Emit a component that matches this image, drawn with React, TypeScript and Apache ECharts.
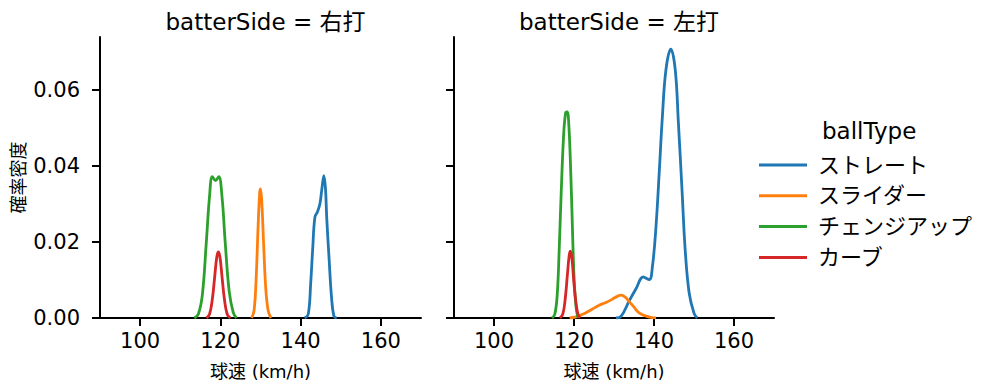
import React, { useEffect, useRef } from "react";
import * as echarts from "echarts";

const panelTitles = ["batterSide = 右打", "batterSide = 左打"];
const ballTypes = ["ストレート", "スライダー", "チェンジアップ", "カーブ"];
const colors = ["#1f77b4", "#ff7f0e", "#2ca02c", "#d62728"];
const xTicks = [100, 120, 140, 160];
const yTicks = [0, 0.02, 0.04, 0.06];

// 右打 panel
const rightStraight: [number, number][] = [
  [141.0, 0], [141.9, 0.001], [142.5, 0.009], [143.0, 0.018], [143.55, 0.0265],
  [144.2, 0.028], [144.8, 0.030], [145.3, 0.034], [145.8, 0.0375], [146.2, 0.034],
  [146.5, 0.0265], [147.1, 0.0155], [147.7, 0.0055], [148.3, 0.0005], [149.0, 0],
];
const rightSlider: [number, number][] = [
  [127.8, 0], [128.4, 0.002], [128.9, 0.01], [129.4, 0.024], [129.8, 0.033],
  [130.0, 0.034], [130.3, 0.031], [130.8, 0.019], [131.3, 0.008], [131.9, 0.002], [132.6, 0],
];
const rightChangeup: [number, number][] = [
  [113.5, 0], [114.5, 0.001], [115.5, 0.006], [116.5, 0.02], [117.3, 0.032],
  [118.0, 0.0372], [118.8, 0.0362], [119.6, 0.0372], [120.4, 0.032], [121.2, 0.02],
  [122.2, 0.007], [123.2, 0.0015], [124.0, 0],
];
const rightCurve: [number, number][] = [
  [116.5, 0], [117.3, 0.001], [118.0, 0.005], [118.6, 0.011], [119.1, 0.016],
  [119.5, 0.0174], [119.9, 0.016], [120.4, 0.011], [121.0, 0.005], [121.7, 0.001], [122.5, 0],
];

// 左打 panel
const leftStraight: [number, number][] = [
  [130.5, 0], [131.8, 0.0005], [133.8, 0.0045], [135.5, 0.0077], [137.3, 0.0108],
  [138.8, 0.0101], [139.6, 0.0135], [140.5, 0.0241], [141.3, 0.0382], [142.1, 0.0531],
  [143.0, 0.0655], [144.2, 0.0708], [145.3, 0.0655], [146.1, 0.0514], [147.0, 0.0338],
  [147.8, 0.0179], [148.8, 0.0065], [150.0, 0.0013], [150.8, 0],
];
const leftSlider: [number, number][] = [
  [118.9, 0], [120.5, 0.0003], [122.0, 0.0009], [123.0, 0.0014], [124.5, 0.0023],
  [126.4, 0.0034], [128.0, 0.0041], [129.5, 0.0049], [130.8, 0.0057], [131.8, 0.006],
  [132.8, 0.0055], [133.8, 0.0043], [134.9, 0.003], [135.9, 0.0017], [137.0, 0.0009],
  [138.0, 0.0005], [139.5, 0.0001], [140.5, 0],
];
const leftChangeup: [number, number][] = [
  [114.5, 0], [115.2, 0.001], [115.8, 0.006], [116.3, 0.018], [116.8, 0.033],
  [117.4, 0.048], [117.9, 0.054], [118.3, 0.0543], [118.7, 0.051], [119.2, 0.038],
  [119.6, 0.024], [120.0, 0.011], [120.5, 0.003], [121.0, 0],
];
const leftCurve: [number, number][] = [
  [116.5, 0], [117.2, 0.001], [117.8, 0.005], [118.4, 0.012], [118.8, 0.0165],
  [119.1, 0.0176], [119.5, 0.0155], [120.0, 0.009], [120.5, 0.004], [121.0, 0.001], [121.5, 0],
];

const panelData = [
  [rightStraight, rightSlider, rightChangeup, rightCurve],
  [leftStraight, leftSlider, leftChangeup, leftCurve],
];

const FONT = "'DejaVu Sans', 'Noto Sans CJK JP', sans-serif";

export default function App() {
  const ref = useRef<HTMLDivElement>(null);
  useEffect(() => {
    if (!ref.current) return;
    const chart = echarts.init(ref.current, undefined, { renderer: "svg" });
    const grids = [
      { left: 100, top: 37, width: 321, height: 281 },
      { left: 454, top: 37, width: 320, height: 281 },
    ];
    const axisCommon = {
      axisLine: { show: true, lineStyle: { color: "#000", width: 2 } },
      axisTick: { show: true, length: 8, lineStyle: { color: "#000", width: 2 } },
      splitLine: { show: false },
    };
    const xAxes = grids.map((_, i) => ({
      type: "value",
      gridIndex: i,
      min: 90,
      max: 170,
      ...axisCommon,
      axisTick: { ...axisCommon.axisTick, customValues: xTicks },
      axisLabel: {
        customValues: xTicks,
        color: "#000",
        fontSize: 21,
        fontFamily: FONT,
        margin: 12,
      },
      name: "球速 (km/h)",
      nameLocation: "middle",
      nameGap: 44,
      nameTextStyle: { color: "#000", fontSize: 18, fontFamily: FONT },
    }));
    const yAxes = grids.map((_, i) => ({
      type: "value",
      gridIndex: i,
      min: 0,
      max: 0.074,
      ...axisCommon,
      axisTick: { ...axisCommon.axisTick, customValues: yTicks },
      axisLabel: {
        show: i === 0,
        customValues: yTicks,
        color: "#000",
        fontSize: 21,
        fontFamily: FONT,
        margin: 20,
        formatter: (v: number) => v.toFixed(2),
      },
      name: i === 0 ? "確率密度" : "",
      nameLocation: "middle",
      nameGap: 73,
      nameTextStyle: { color: "#000", fontSize: 18, fontFamily: FONT },
    }));
    const series: any[] = [];
    panelData.forEach((curves, p) => {
      curves.forEach((d, k) => {
        series.push({
          type: "line",
          name: ballTypes[k],
          xAxisIndex: p,
          yAxisIndex: p,
          data: d,
          smooth: 0.4,
          symbol: "none",
          lineStyle: { color: colors[k], width: 2.8 },
          itemStyle: { color: colors[k] },
          z: 2 + k,
        });
      });
    });
    const titleStyle = { color: "#000", fontSize: 23, fontWeight: "normal", fontFamily: FONT };
    chart.setOption({
      animation: false,
      backgroundColor: "#fff",
      grid: grids,
      xAxis: xAxes,
      yAxis: yAxes,
      title: [
        { text: panelTitles[0], left: 260.5, top: 5, textAlign: "center", textStyle: titleStyle },
        { text: panelTitles[1], left: 614, top: 5, textAlign: "center", textStyle: titleStyle },
        { text: "ballType", left: 817, top: 114, textStyle: titleStyle },
      ],
      legend: {
        orient: "vertical",
        left: 754,
        top: 149,
        data: ballTypes.map((n, k) => ({
          name: n,
          icon: "rect",
          itemStyle: { color: colors[k] },
        })),
        itemWidth: 48,
        itemHeight: 3,
        itemGap: 8.8,
        textStyle: { color: "#000", fontSize: 22, fontFamily: FONT, padding: [0, 0, 0, 6] },
        selectedMode: false,
      },
      series,
    });
    return () => chart.dispose();
  }, []);
  return (
    <div
      ref={ref}
      style={{ position: "fixed", left: 0, top: 0, width: 999, height: 391 }}
    />
  );
}
